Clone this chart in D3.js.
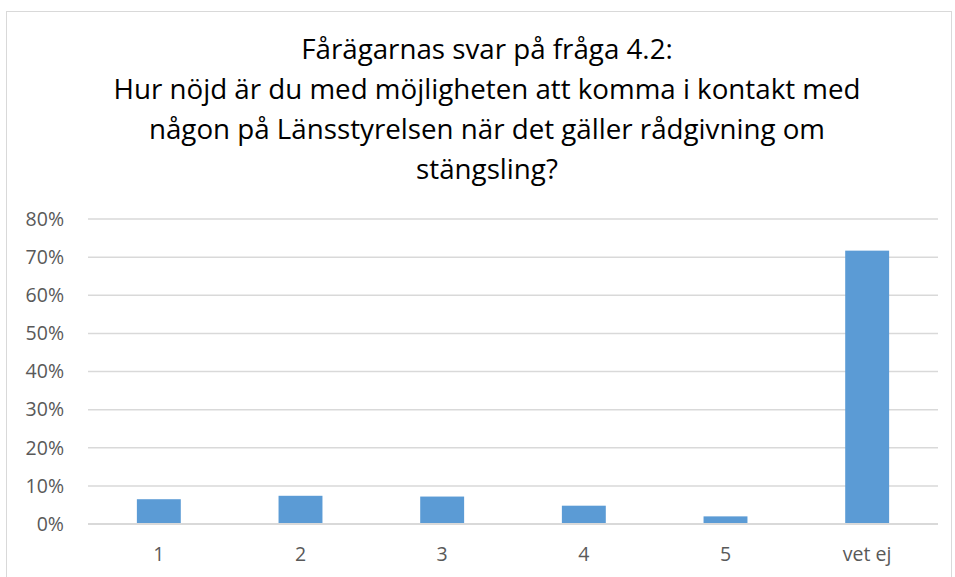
<!DOCTYPE html>
<html><head><meta charset="utf-8">
<script src="https://cdn.jsdelivr.net/npm/d3@7/dist/d3.min.js"></script>
<style>body{margin:0;background:#fff}svg{display:block}</style>
</head><body>
<script>
const categories = ["1", "2", "3", "4", "5", "vet ej"];
const values = [0.065, 0.074, 0.072, 0.048, 0.020, 0.717];
const yTicks = [0, 0.1, 0.2, 0.3, 0.4, 0.5, 0.6, 0.7, 0.8];
const titleLines = [
  "Fårägarnas svar på fråga 4.2:",
  "Hur nöjd är du med möjligheten att komma i kontakt med",
  "någon på Länsstyrelsen när det gäller rådgivning om",
  "stängsling?"
];

const W = 955, H = 577;
const svg = d3.select("body").append("svg").attr("width", W).attr("height", H);
svg.append("rect").attr("width", W).attr("height", H).attr("fill", "#fff");
svg.append("rect").attr("x", 6.5).attr("y", 11.5).attr("width", 945).attr("height", 600)
  .attr("fill", "none").attr("stroke", "#d9d9d9").attr("stroke-width", 1);

const font = "'Open Sans', 'Noto Sans', sans-serif";
const plot = {left: 88, right: 938, top: 219, bottom: 524};

const x = d3.scaleBand().domain(categories).range([plot.left, plot.right])
  .paddingInner(0.69).paddingOuter(0.345);
const y = d3.scaleLinear().domain([0, 0.8]).range([plot.bottom, plot.top]);

// title
const tls = svg.append("g").selectAll("text").data(titleLines).join("text")
  .attr("x", 487).attr("y", (d, i) => 59 + i * 40)
  .attr("text-anchor", "middle").attr("font-family", font)
  .attr("font-size", 24).attr("fill", "#000").text(d => d);
const w2 = tls.nodes()[1].getComputedTextLength();
tls.attr("font-size", 24 * 747 / w2);

// gridlines
svg.append("g").selectAll("line").data(yTicks.filter(t => t > 0)).join("line")
  .attr("x1", plot.left).attr("x2", plot.right)
  .attr("y1", d => y(d)).attr("y2", d => y(d))
  .attr("stroke", "#d9d9d9").attr("stroke-width", 1.5);

// bars
svg.append("g").selectAll("rect").data(values).join("rect")
  .attr("x", (d, i) => x(categories[i])).attr("width", x.bandwidth())
  .attr("y", d => y(d)).attr("height", d => y(0) - y(d))
  .attr("fill", "#5b9bd5");

// baseline
svg.append("line").attr("x1", plot.left).attr("x2", plot.right)
  .attr("y1", y(0)).attr("y2", y(0)).attr("stroke", "#d9d9d9").attr("stroke-width", 2);

// y axis labels
const yAxis = d3.axisLeft(y).tickValues(yTicks).tickFormat(d3.format(".0%")).tickSize(0).tickPadding(0);
const ya = svg.append("g").attr("transform", `translate(64,0)`).call(yAxis);
ya.select(".domain").remove();
ya.selectAll("text").attr("font-family", font).attr("font-size", 19.5).attr("fill", "#595959");

// x axis labels
const xAxis = d3.axisBottom(x).tickSize(0).tickPadding(0);
const xa = svg.append("g").attr("transform", `translate(0,${plot.bottom + 23})`).call(xAxis);
xa.select(".domain").remove();
xa.selectAll("text").attr("font-family", font).attr("font-size", 19.5).attr("fill", "#595959");
</script>
</body></html>
